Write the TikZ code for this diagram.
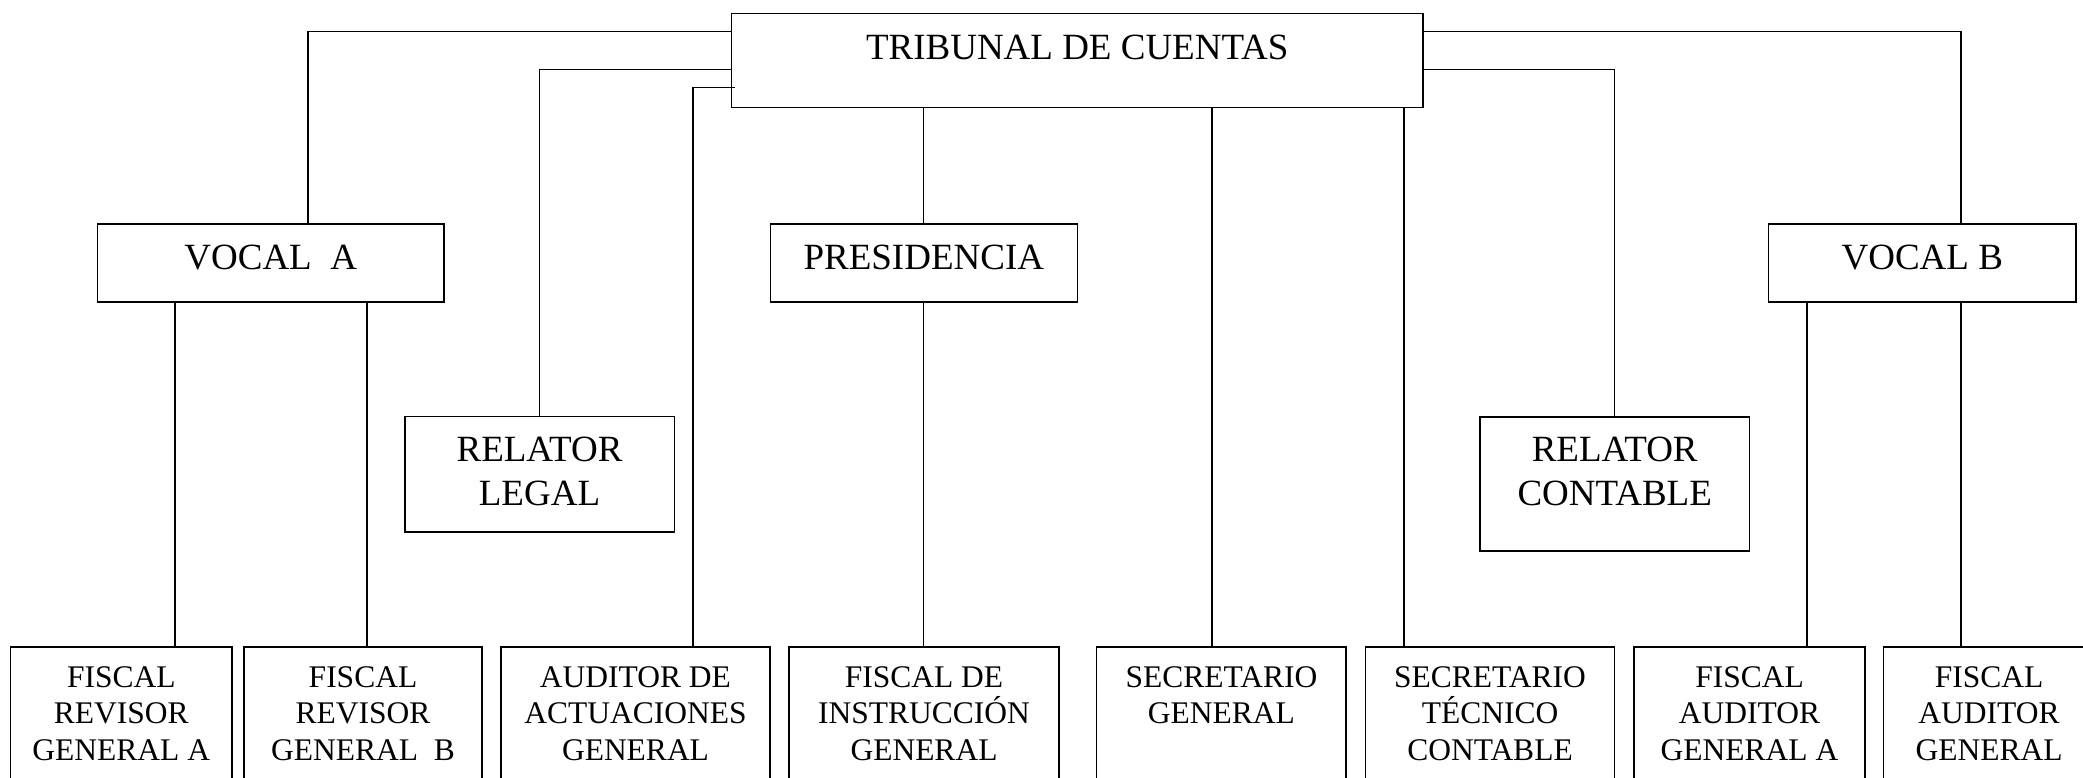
\documentclass[tikz,border=0pt]{standalone}
\usepackage{fontspec}
\setmainfont{Liberation Serif}
\usetikzlibrary{calc}
\begin{document}
\begin{tikzpicture}[x=1pt,y=-1pt,
  box/.style={draw, line width=1.4pt, inner sep=0pt, outer sep=0pt},
  conn/.style={draw, line width=1.3pt},
  bigtxt/.style={inner sep=0pt, anchor=north, align=center, font=\fontsize{37pt}{44pt}\selectfont},
  smalltxt/.style={inner sep=0pt, anchor=north, align=center, font=\fontsize{31.5pt}{36.7pt}\selectfont}]
\useasboundingbox (0,0) rectangle (2083,778);
\clip (0,0) rectangle (2083,778);
\fill[white] (0,0) rectangle (2083,778);
% boxes
\node[box, minimum width=691.5pt, minimum height=94pt] (trib) at (1077.25,60.3) {};
\node[box, minimum width=346.3pt, minimum height=77.7pt] (vocA) at (270.75,263) {};
\node[box, minimum width=307pt, minimum height=77.7pt] (pres) at (923.8,263) {};
\node[box, minimum width=307.4pt, minimum height=77.7pt] (vocB) at (1922.3,263) {};
\node[box, minimum width=269.4pt, minimum height=115.3pt] (relL) at (539.5,474.4) {};
\node[box, minimum width=269.4pt, minimum height=134.3pt] (relC) at (1614.7,484) {};
\node[box, minimum width=221.5pt, minimum height=163pt] (b1) at (121.3,728.5) {};
\node[box, minimum width=238pt, minimum height=163pt] (b2) at (363,728.5) {};
\node[box, minimum width=269pt, minimum height=163pt] (b3) at (635.5,728.5) {};
\node[box, minimum width=270pt, minimum height=163pt] (b4) at (924,728.5) {};
\node[box, minimum width=249.3pt, minimum height=163pt] (b5) at (1221.4,728.5) {};
\node[box, minimum width=249.3pt, minimum height=163pt] (b6) at (1490,728.5) {};
\node[box, minimum width=231pt, minimum height=163pt] (b7) at (1749.5,728.5) {};
\node[box, minimum width=211.6pt, minimum height=163pt] (b8) at (1989,728.5) {};
% texts
\node[bigtxt] (tribT) at (1077.25,35) {TRIBUNAL DE CUENTAS};
\node[bigtxt] (vocAT) at (270.75,245) {VOCAL\ \ A};
\node[bigtxt] (presT) at (923.8,245) {PRESIDENCIA};
\node[bigtxt] (vocBT) at (1922.3,245) {VOCAL B};
\node[bigtxt] (relLT) at (539.5,437) {RELATOR\\LEGAL};
\node[bigtxt] (relCT) at (1614.7,437) {RELATOR\\CONTABLE};
\node[smalltxt] (b1T) at (121.3,666) {FISCAL\\REVISOR\\GENERAL A};
\node[smalltxt] (b2T) at (363,666) {FISCAL\\REVISOR\\GENERAL\ \ B};
\node[smalltxt] (b3T) at (635.5,666) {AUDITOR DE\\ACTUACIONES\\GENERAL};
\node[smalltxt] (b4T) at (924,666) {FISCAL DE\\INSTRUCCIÓN\\GENERAL};
\node[smalltxt] (b5T) at (1221.4,666) {SECRETARIO\\GENERAL};
\node[smalltxt] (b6T) at (1490,666) {SECRETARIO\\TÉCNICO\\CONTABLE};
\node[smalltxt] (b7T) at (1749.5,666) {FISCAL\\AUDITOR\\GENERAL A};
\node[smalltxt] (b8T) at (1989,666) {FISCAL\\AUDITOR\\GENERAL};
% connector points
\coordinate (tl1) at ($(trib.north west)+(0,18)$);
\coordinate (tl2) at ($(trib.north west)+(0,56)$);
\coordinate (tl3) at ($(trib.north west)+(3,74)$);
\coordinate (tr1) at ($(trib.north east)+(0,18)$);
\coordinate (tr2) at ($(trib.north east)+(0,56)$);
\coordinate (pA) at ($(vocA.north)+(37.25,0)$);
\coordinate (pB) at ($(vocB.north)+(38.7,0)$);
\coordinate (p3) at ($(b3.north)+(57.5,0)$);
\coordinate (p5) at ($(b5.north)+(-9.4,0)$);
\coordinate (p6) at ($(b6.north)+(-86,0)$);
\coordinate (p1) at ($(b1.north)+(53.7,0)$);
\coordinate (p2) at ($(b2.north)+(4,0)$);
\coordinate (p7) at ($(b7.north)+(57.5,0)$);
\coordinate (p8) at ($(b8.north)+(-28,0)$);
% connectors
\draw[conn] (tl1) -| (pA);
\draw[conn] (tl2) -| (relL.north);
\draw[conn] (tl3) -| (p3);
\draw[conn] (trib.south -| pres.north) -- (pres.north);
\draw[conn] (pres.south) -- (pres.south |- b4.north);
\draw[conn] (p5 |- trib.south) -- (p5);
\draw[conn] (p6 |- trib.south) -- (p6);
\draw[conn] (tr2) -| (relC.north);
\draw[conn] (tr1) -| (pB);
\draw[conn] (p1 |- vocA.south) -- (p1);
\draw[conn] (p2 |- vocA.south) -- (p2);
\draw[conn] (p7 |- vocB.south) -- (p7);
\draw[conn] (p8 |- vocB.south) -- (p8);
\end{tikzpicture}
\end{document}
